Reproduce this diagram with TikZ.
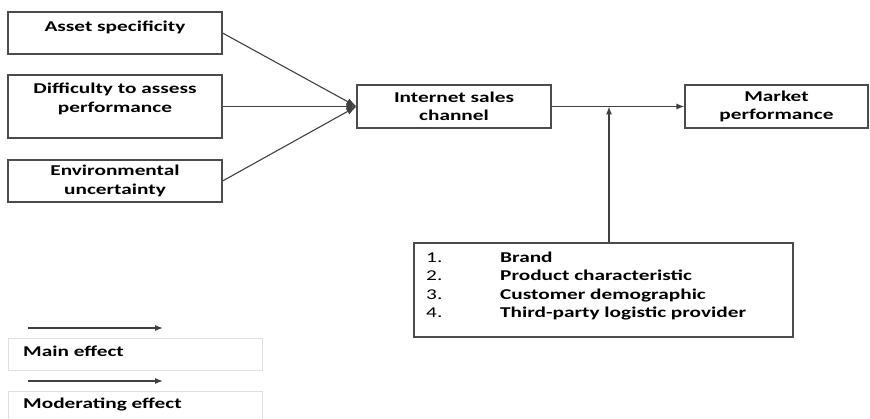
\documentclass[tikz,border=0pt]{standalone}
\usepackage{fontspec}
\setmainfont{Carlito}[FakeStretch=1.42]
\usetikzlibrary{arrows.meta,positioning}

\begin{document}
\begin{tikzpicture}[>=Latex,x=1pt,y=-1pt,
  box/.style={draw=black!70,line width=1.1pt,inner sep=0pt,align=center,
    font=\fontsize{15}{18.5}\selectfont\bfseries},
  lbl/.style={inner sep=0pt,align=center,font=\fontsize{15}{18.5}\selectfont\bfseries},
  keybox/.style={draw=black!12,line width=0.6pt,inner sep=0pt,minimum width=254},
  link/.style={draw=black!75,line width=1.1pt}]
\useasboundingbox (0,0) rectangle (870,419);
% antecedents
\node[box,minimum width=214,minimum height=42] (asset) at (115,33) {};
\node[lbl] (assetT) at (115,27) {Asset specificity};
\node[box,minimum width=214,minimum height=63] (difficulty) at (115,106.5) {};
\node[lbl] (difficultyT) at (115,99) {Difficulty to assess\\performance};
\node[box,minimum width=214,minimum height=42] (environment) at (115,181) {Environmental\\uncertainty};
% channel and outcome
\node[box,minimum width=194,minimum height=43] (internet) at (454,106.5) {Internet sales\\channel};
\node[box,minimum width=183,minimum height=43] (market) at (776.5,106.5) {Market\\performance};
% moderators
\node[box,minimum width=379,minimum height=94] (moderator) at (603.5,290) {};
\node[anchor=north west,inner sep=0pt,font=\fontsize{15}{18.5}\selectfont] (moderatorT) at (426,249)
  {\begin{tabular}{@{}p{74pt}@{}l@{}}
   1. & \bfseries Brand\\
   2. & \bfseries Product characteristic\\
   3. & \bfseries Customer demographic\\
   4. & \bfseries Third-party logistic provider
   \end{tabular}};
\draw[link,-{Latex[length=10pt,width=7pt]}] (asset.east) -- (internet.west);
\draw[link,-{Latex[length=10pt,width=7pt]}] (difficulty.east) -- (internet.west);
\draw[link,-{Latex[length=10pt,width=7pt]}] (environment.east) -- (internet.west);
\draw[link,-{Latex[length=8pt,width=6pt]}] (internet.east) -- (market.west);
\draw[link,-{Latex[length=8pt,width=6pt]}] ([xshift=5.5pt]moderator.north) -- ([xshift=5.5pt]moderator.north |- internet.east);
% legend
\coordinate (mainS) at (28,328);
\coordinate (mainE) at (163,328);
\draw[link,-{Latex[length=8pt,width=6pt]}] (mainS) -- (mainE);
\node[keybox,minimum height=32] (mainkey) at (135,354) {};
\node[lbl,anchor=base west] (mainkeyT) at (23,357) {Main effect};
\coordinate (modS) at (28,381);
\coordinate (modE) at (163,381);
\draw[link,-{Latex[length=8pt,width=6pt]}] (modS) -- (modE);
\node[keybox,minimum height=30] (modkey) at (135,406) {};
\node[lbl,anchor=base west] (modkeyT) at (23,409) {Moderating effect};
\end{tikzpicture}
\end{document}
